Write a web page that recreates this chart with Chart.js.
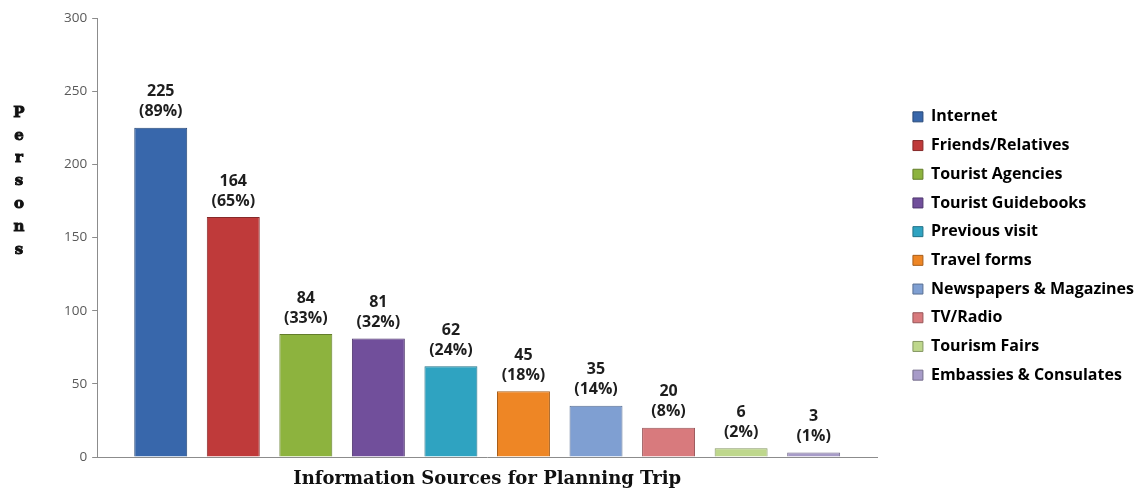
<!DOCTYPE html>
<html>
<head>
<meta charset="utf-8">
<script src="https://cdn.jsdelivr.net/npm/chart.js@4/dist/chart.umd.min.js"></script>
<style>
  html, body { margin: 0; padding: 0; background: #fff; }
  #wrap { width: 1137px; height: 488px; position: relative; }
</style>
</head>
<body>
<div id="wrap"><canvas id="sourceChart"></canvas></div>
<script>
// data
var sources = ["Internet", "Friends/Relatives", "Tourist Agencies", "Tourist Guidebooks", "Previous visit",
  "Travel forms", "Newspapers & Magazines", "TV/Radio", "Tourism Fairs", "Embassies & Consulates"];
var persons = [225, 164, 84, 81, 62, 45, 35, 20, 6, 3];
var percents = [89, 65, 33, 32, 24, 18, 14, 8, 2, 1];
var yTicks = [0, 50, 100, 150, 200, 250, 300];
var barColors = ["#3867ab", "#bf3a3a", "#8db33e", "#714f9b", "#2fa3c1", "#ee8625", "#7f9fd2", "#d87a7d", "#bed78c", "#a79bc8"];

var yTitle = "Persons";
var xTitle = "Information Sources for Planning Trip";

// legend placement tweaks
var legendGap = 23;
var legendExtra = 16;
var legendLift = 7;

// darken / lighten a hex colour
function shade(hex, f) {
  var r = parseInt(hex.substr(1, 2), 16), g = parseInt(hex.substr(3, 2), 16), b = parseInt(hex.substr(5, 2), 16);
  function c(v) { return Math.round(f < 0 ? v * (1 + f) : v + (255 - v) * f); }
  return "rgb(" + c(r) + "," + c(g) + "," + c(b) + ")";
}

// bar fill with a bit of the glossy look
function barFill(ctx) {
  var base = barColors[ctx.datasetIndex];
  var el = ctx.element;
  if (!el || el.width == null || isNaN(el.x)) return base;
  var left = el.x - el.width / 2, right = el.x + el.width / 2;
  var grad = ctx.chart.ctx.createLinearGradient(left, 0, right, 0);
  grad.addColorStop(0, shade(base, -0.25));
  grad.addColorStop(0.12, base);
  grad.addColorStop(0.5, shade(base, 0.06));
  grad.addColorStop(0.88, base);
  grad.addColorStop(1, shade(base, -0.3));
  return grad;
}

var datasets = [];
sources.forEach(function (name, i) {
  datasets.push({
    label: name,
    data: [persons[i]],
    backgroundColor: barFill,
    borderColor: shade(barColors[i], -0.3),
    borderWidth: 1,
    borderSkipped: "bottom",
    categoryPercentage: 0.93,
    barPercentage: 0.73,
  });
});

// value + percent above each bar
var barLabels = {
  id: "barLabels",
  afterDatasetsDraw: function (chart) {
    var ctx = chart.ctx;
    ctx.save();
    ctx.font = "bold 16px 'Open Sans'";
    ctx.fillStyle = "#1e1e1e";
    ctx.textAlign = "center";
    ctx.textBaseline = "middle";
    chart.data.datasets.forEach(function (ds, i) {
      var bar = chart.getDatasetMeta(i).data[0];
      ctx.fillText(String(persons[i]), bar.x, bar.y - 36);
      ctx.fillText("(" + percents[i] + "%)", bar.x, bar.y - 16);
    });
    ctx.restore();
  },
};

// stacked letters for the y title
var stackedTitle = {
  id: "stackedTitle",
  afterDraw: function (chart) {
    var ctx = chart.ctx;
    var area = chart.chartArea;
    ctx.save();
    ctx.font = "bold 15px 'DejaVu Serif'";
    ctx.fillStyle = "#111";
    ctx.strokeStyle = "#111";
    ctx.lineWidth = 0.9;
    ctx.textAlign = "center";
    ctx.textBaseline = "middle";
    for (var i = 0; i < yTitle.length; i++) {
      var y = area.top + 95 + i * 22.8;
      ctx.fillText(yTitle[i], 19, y);
      ctx.strokeText(yTitle[i], 19, y);
    }
    ctx.restore();
  },
};

// widen the legend box, keep its items where they were
var legendSpace = {
  id: "legendSpace",
  beforeLayout: function (chart) {
    var lg = chart.legend;
    if (lg && !lg._widened) {
      var fit = lg.fit;
      lg.fit = function () {
        fit.call(this);
        this.width += legendExtra;
      };
      lg._widened = true;
    }
  },
  afterLayout: function (chart) {
    var lg = chart.legend;
    if (!lg) return;
    lg.left += legendGap;
    lg.top -= legendLift;
    lg.bottom -= legendLift;
  },
};

var ctxSource = document.getElementById("sourceChart");
var chartSource = new Chart(ctxSource, {
  type: "bar",
  data: {
    labels: [""],
    datasets: datasets,
  },
  options: {
    responsive: true,
    maintainAspectRatio: false,
    animation: false,
    layout: { padding: { left: 59, top: 18, right: 0, bottom: 0 } },
    plugins: {
      legend: {
        position: "right",
        align: "center",
        labels: {
          boxWidth: 10,
          boxHeight: 10,
          padding: 12.7,
          color: "#222",
          font: { family: "'Open Sans'", size: 16, weight: "bold" },
          generateLabels: function (chart) {
            return sources.map(function (name, i) {
              return { text: name, fillStyle: barColors[i], strokeStyle: shade(barColors[i], -0.3), lineWidth: 1, datasetIndex: i };
            });
          },
        },
      },
      tooltip: { enabled: false },
    },
    scales: {
      x: {
        grid: { display: false, drawTicks: false },
        border: { color: "#8c8c8c" },
        ticks: { display: false },
        title: {
          display: true,
          text: xTitle,
          color: "#111",
          font: { family: "'DejaVu Serif'", size: 18, weight: "bold", lineHeight: 1 },
          padding: { top: 13, bottom: 0 },
        },
      },
      y: {
        min: 0,
        max: 300,
        afterBuildTicks: function (axis) {
          axis.ticks = yTicks.map(function (v) { return { value: v }; });
        },
        grid: { drawOnChartArea: false, drawTicks: true, tickLength: 5, color: "#8c8c8c" },
        border: { color: "#8c8c8c" },
        ticks: {
          color: "#595959",
          padding: 5,
          font: { family: "'Open Sans'", size: 13.5 },
        },
      },
    },
  },
  plugins: [barLabels, stackedTitle, legendSpace],
});
</script>
</body>
</html>
